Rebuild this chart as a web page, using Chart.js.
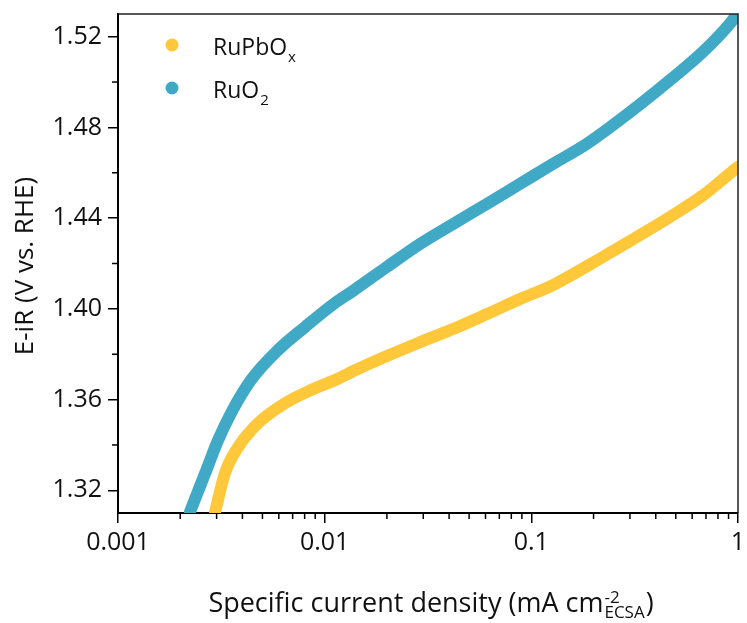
<!DOCTYPE html>
<html>
<head>
<meta charset="utf-8">
<script src="https://cdn.jsdelivr.net/npm/chart.js@4.4.1/dist/chart.umd.min.js"></script>
<style>
    body { margin: 0; background: #fff; }
    #wrap { width: 747px; height: 623px; }
</style>
</head>
<body>
<div id="wrap"><canvas id="myChart"></canvas></div>
<script>
// values
let ruPbOxCurrent = [0.00295, 0.00329, 0.00381, 0.00476, 0.00643, 0.00859, 0.01121, 0.01370, 0.02001, 0.02891,
    0.04175, 0.06099, 0.08809, 0.1272, 0.2220, 0.3243, 0.4683, 0.6762, 0.9447, 1.0];
let ruPbOxPotential = [1.3105, 1.3275, 1.3390, 1.3496, 1.3584, 1.3642, 1.3686, 1.3725, 1.3792, 1.3853,
    1.3911, 1.3977, 1.4043, 1.4105, 1.4229, 1.4317, 1.4405, 1.4500, 1.4608, 1.4625];

let ruO2Current = [0.00223, 0.00264, 0.00305, 0.00352, 0.00440, 0.00594, 0.00803, 0.01121, 0.01370, 0.02001,
    0.02891, 0.04175, 0.06099, 0.08809, 0.1272, 0.1858, 0.3243, 0.4683, 0.6762, 0.9138, 1.0];
let ruO2Potential = [1.3105, 1.3275, 1.3421, 1.3540, 1.3686, 1.3818, 1.3920, 1.4026, 1.4079, 1.4185,
    1.4286, 1.4374, 1.4463, 1.4551, 1.4639, 1.4728, 1.4891, 1.5008, 1.5133, 1.5258, 1.5305];

let xTicks = [0.001, 0.01, 0.1, 1];
let xTickLabels = ["0.001", "0.01", "0.1", "1"];
let xMinorFactors = [2, 3, 4, 5, 6, 7, 8, 9];
let yTicks = [1.32, 1.36, 1.40, 1.44, 1.48, 1.52];
let yTickLabels = ["1.32", "1.36", "1.40", "1.44", "1.48", "1.52"];
let yMinor = [1.34, 1.38, 1.42, 1.46, 1.50];

let orange = "#FFC83A";
let blue = "#3FA9C6";
let fontName = "'Open Sans', sans-serif";

function toPoints(xs, ys) {
    let pts = [];
    for (let i = 0; i < xs.length; i++) {
        pts.push({x: xs[i], y: ys[i]});
    }
    return pts;
}

// frame, minor ticks, legend and axis titles
let extras = {
    id: "extras",
    afterDraw(chart) {
        let ctx = chart.ctx;
        let a = chart.chartArea;
        let xs = chart.scales.x;
        let ys = chart.scales.y;
        ctx.save();

        ctx.strokeStyle = "#222";
        ctx.lineWidth = 1.5;
        ctx.beginPath();
        ctx.moveTo(a.left, a.top);
        ctx.lineTo(a.right, a.top);
        ctx.lineTo(a.right, a.bottom);
        ctx.stroke();

        ctx.strokeStyle = "#000";
        ctx.lineWidth = 1.5;
        for (let d = 0; d < xTicks.length - 1; d++) {
            for (let f of xMinorFactors) {
                let px = xs.getPixelForValue(xTicks[d] * f);
                ctx.beginPath();
                ctx.moveTo(px, a.bottom);
                ctx.lineTo(px, a.bottom + 6);
                ctx.stroke();
            }
        }
        for (let v of yMinor) {
            let py = ys.getPixelForValue(v);
            ctx.beginPath();
            ctx.moveTo(a.left, py);
            ctx.lineTo(a.left - 6, py);
            ctx.stroke();
        }

        // legend
        let legend = [[orange, "RuPbO", "x", 45], [blue, "RuO", "2", 88]];
        for (let l of legend) {
            ctx.fillStyle = l[0];
            ctx.beginPath();
            ctx.arc(172, l[3], 6.5, 0, Math.PI * 2);
            ctx.fill();
            ctx.fillStyle = "#111";
            ctx.textAlign = "left";
            ctx.textBaseline = "alphabetic";
            ctx.font = "23px " + fontName;
            ctx.fillText(l[1], 213, l[3] + 10);
            let w = ctx.measureText(l[1]).width;
            ctx.font = "15px " + fontName;
            ctx.fillText(l[2], 213 + w + 1, l[3] + 17);
        }

        // y title
        ctx.fillStyle = "#111";
        ctx.font = "26px " + fontName;
        ctx.save();
        ctx.translate(26, 266);
        ctx.rotate(-Math.PI / 2);
        ctx.textAlign = "center";
        ctx.textBaseline = "middle";
        ctx.fillText("E-iR (V vs. RHE)", 0, 0);
        ctx.restore();

        // x title with stacked super/subscript
        let main = "Specific current density (mA cm";
        ctx.font = "27px " + fontName;
        let wMain = ctx.measureText(main).width;
        let wClose = ctx.measureText(")").width;
        ctx.font = "17px " + fontName;
        let wSup = ctx.measureText("-2").width;
        let wSub = ctx.measureText("ECSA").width;
        let wScript = Math.max(wSup, wSub);
        let total = wMain + wScript + wClose + 2;
        let x0 = 431 - total / 2;
        let base = 612;
        ctx.textAlign = "left";
        ctx.textBaseline = "alphabetic";
        ctx.font = "27px " + fontName;
        ctx.fillText(main, x0, base);
        ctx.fillText(")", x0 + wMain + wScript + 2, base);
        ctx.font = "17px " + fontName;
        ctx.fillText("-2", x0 + wMain + 1, base - 9);
        ctx.fillText("ECSA", x0 + wMain + 1, base + 6);

        ctx.restore();
    }
};

let data = {
    datasets: [
        {
            label: "RuPbOx",
            data: toPoints(ruPbOxCurrent, ruPbOxPotential),
            borderColor: orange,
            backgroundColor: orange,
            borderWidth: 12,
            pointRadius: 0,
            showLine: true,
            cubicInterpolationMode: "monotone",
            borderCapStyle: "round",
            borderJoinStyle: "round",
            clip: 0
        },
        {
            label: "RuO2",
            data: toPoints(ruO2Current, ruO2Potential),
            borderColor: blue,
            backgroundColor: blue,
            borderWidth: 12,
            pointRadius: 0,
            showLine: true,
            cubicInterpolationMode: "monotone",
            borderCapStyle: "round",
            borderJoinStyle: "round",
            clip: 0
        }
    ]
};

let config = {
    type: "scatter",
    data: data,
    options: {
        responsive: true,
        maintainAspectRatio: false,
        animation: false,
        layout: {padding: {left: 0, right: 9, top: 14, bottom: 0}},
        plugins: {legend: {display: false}, tooltip: {enabled: false}},
        scales: {
            x: {
                type: "logarithmic",
                min: 0.001,
                max: 1,
                afterBuildTicks: axis => { axis.ticks = xTicks.map(v => ({value: v})); },
                afterFit: axis => {
                    axis.height = 110;
                    axis.paddingLeft = 0;
                    axis.paddingRight = 0;
                },
                ticks: {
                    autoSkip: false,
                    maxRotation: 0,
                    color: "#111",
                    padding: 5,
                    font: {family: fontName, size: 25},
                    callback: (v, idx) => xTickLabels[idx]
                },
                grid: {drawOnChartArea: false, tickLength: 10, color: "#000", lineWidth: 1.5},
                border: {display: true, color: "#000", width: 2}
            },
            y: {
                min: 1.31,
                max: 1.53,
                afterBuildTicks: axis => { axis.ticks = yTicks.map(v => ({value: v})); },
                afterFit: axis => {
                    axis.width = 118;
                    axis.paddingTop = 0;
                    axis.paddingBottom = 0;
                },
                ticks: {
                    autoSkip: false,
                    color: "#111",
                    padding: 6,
                    font: {family: fontName, size: 25},
                    callback: (v, idx) => yTickLabels[idx]
                },
                grid: {drawOnChartArea: false, tickLength: 10, color: "#000", lineWidth: 1.5},
                border: {display: true, color: "#000", width: 2}
            }
        }
    },
    plugins: [extras]
};

let myChart = new Chart(document.getElementById("myChart"), config);
</script>
</body>
</html>
